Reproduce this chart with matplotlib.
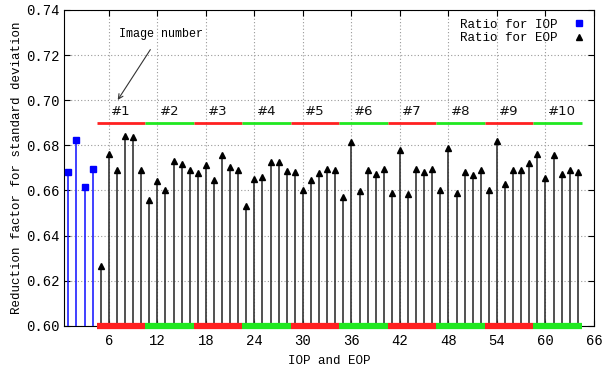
import matplotlib
matplotlib.use('Agg')
import matplotlib.pyplot as plt
import numpy as np


# IOP ratios (first 4 positions) and EOP ratios (6 per image, 10 images)
iop_x = [1, 2, 3, 4]
iop_ratio = [0.6684, 0.6824, 0.6617, 0.6697]

eop_x = list(range(5, 65))
eop_ratio = [
	0.6266, 0.6761, 0.6690, 0.6842, 0.6836, 0.6690,
	0.6558, 0.6644, 0.6602, 0.6731, 0.6716, 0.6689,
	0.6676, 0.6715, 0.6647, 0.6758, 0.6706, 0.6690,
	0.6532, 0.6650, 0.6659, 0.6728, 0.6728, 0.6688,
	0.6684, 0.6600, 0.6647, 0.6676, 0.6694, 0.6690,
	0.6570, 0.6815, 0.6597, 0.6690, 0.6675, 0.6696,
	0.6589, 0.6781, 0.6583, 0.6694, 0.6681, 0.6696,
	0.6601, 0.6787, 0.6591, 0.6682, 0.6669, 0.6691,
	0.6601, 0.6820, 0.6628, 0.6691, 0.6691, 0.6721,
	0.6763, 0.6657, 0.6759, 0.6675, 0.6691, 0.6682,
]

image_labels = ['#1', '#2', '#3', '#4', '#5', '#6', '#7', '#8', '#9', '#10']
image_start = [4.5, 10.5, 16.5, 22.5, 28.5, 34.5, 40.5, 46.5, 52.5, 58.5]
image_colors = ['#ff2020', '#20e820'] * 5

x_ticks = [6, 12, 18, 24, 30, 36, 42, 48, 54, 60, 66]
y_ticks = [0.60, 0.62, 0.64, 0.66, 0.68, 0.70, 0.72, 0.74]

plt.rcParams['font.family'] = ['Liberation Mono', 'DejaVu Sans Mono']
plt.rcParams['font.size'] = 9

fig = plt.figure(figsize=(6.13, 3.67), dpi=100)
ax = fig.add_axes([0.105, 0.112, 0.864, 0.861])

base = 0.60
ax.vlines(iop_x, base, iop_ratio, color='#2020ff', lw=1.2, zorder=3)
ax.plot(iop_x, iop_ratio, 's', color='blue', ms=5, label='Ratio for IOP', zorder=4)
ax.vlines(eop_x, base, eop_ratio, color='#333333', lw=1.2, zorder=3)
ax.plot(eop_x, eop_ratio, '^', color='black', ms=5, label='Ratio for EOP', zorder=4)

# image segments: bars at bottom and on top with labels
for lab, s, c in zip(image_labels, image_start, image_colors):
	ax.plot([s, s + 6], [0.69, 0.69], color=c, lw=2, solid_capstyle='butt', zorder=2)
	ax.plot([s, s + 6], [base, base], color=c, lw=4.5, solid_capstyle='butt',
		clip_on=False, zorder=5)
	ax.text(s + 1.8, 0.6922, lab, ha='left', va='bottom', fontsize=9.5,
		family='DejaVu Sans', color='#111111')

ax.annotate('Image number', xy=(7.1, 0.7001), xytext=(12.4, 0.7294),
	ha='center', va='center', fontsize=8.5,
	arrowprops=dict(arrowstyle='->', color='#333333', lw=0.8, shrinkA=6, shrinkB=0))

ax.set_xlim(0.5, 66)
ax.set_ylim(0.60, 0.74)
ax.set_xticks(x_ticks)
ax.set_yticks(y_ticks)
ax.set_yticklabels(['%.2f' % v for v in y_ticks], fontsize=10)
ax.set_xticklabels([str(v) for v in x_ticks], fontsize=10)
ax.tick_params(direction='in', top=True, right=True, length=4, width=0.8)
ax.tick_params(axis='x', pad=6)
ax.grid(True, linestyle=(0, (1, 2)), color='#999999', lw=0.8)
ax.set_xlabel('IOP and EOP', fontsize=9, labelpad=5)
ax.set_ylabel('Reduction factor for standard deviation', fontsize=9, labelpad=2)

ax.legend(loc='upper right', frameon=False, markerfirst=False, handlelength=1,
	handletextpad=1.2, labelspacing=0.1, borderaxespad=0.3, fontsize=9)

fig.savefig('out.png', dpi=100)
